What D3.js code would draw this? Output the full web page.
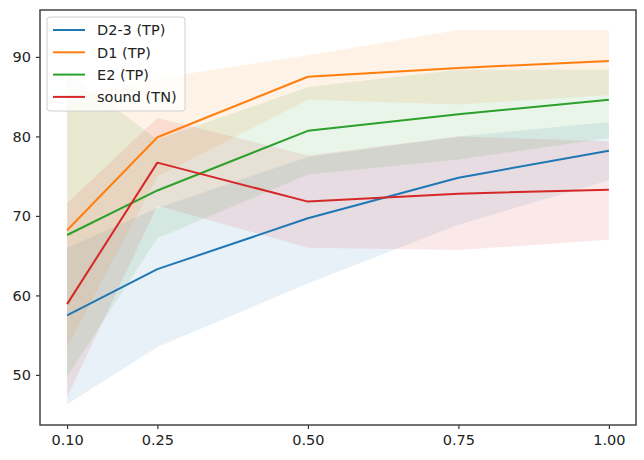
<!DOCTYPE html>
<html>
<head>
<meta charset="utf-8">
<script src="https://cdn.jsdelivr.net/npm/d3@7"></script>
<style>
  html, body { margin: 0; padding: 0; background: #fff; }
  svg { display: block; font-family: "DejaVu Sans", sans-serif; }
</style>
</head>
<body>
<svg id="chart" width="644" height="460"></svg>
<script>
// ---- data ----
const xValues = [0.10, 0.25, 0.50, 0.75, 1.00];
const xTickLabels = ["0.10", "0.25", "0.50", "0.75", "1.00"];
const yTicks = [50, 60, 70, 80, 90];
const seriesNames = ["D2-3 (TP)", "D1 (TP)", "E2 (TP)", "sound (TN)"];
const seriesColors = ["#1f77b4", "#ff7f0e", "#2ca02c", "#d62728"];

const d23Mean  = [57.5, 63.3, 69.7, 74.8, 78.2];
const d23Low   = [46.3, 53.5, 61.5, 68.9, 74.5];
const d23High  = [66.0, 71.0, 77.4, 80.0, 81.8];

const d1Mean   = [68.2, 79.9, 87.5, 88.6, 89.5];
const d1Low    = [53.5, 75.0, 84.6, 84.0, 85.2];
const d1High   = [85.0, 87.3, 90.2, 93.4, 93.4];

const e2Mean   = [67.6, 73.2, 80.7, 82.8, 84.6];
const e2Low    = [49.8, 67.2, 75.2, 77.1, 79.8];
const e2High   = [88.0, 79.6, 86.2, 88.4, 88.4];

const soundMean = [58.9, 76.7, 71.8, 72.8, 73.3];
const soundLow  = [47.2, 71.3, 66.0, 65.7, 67.0];
const soundHigh = [71.6, 82.3, 77.6, 80.0, 79.4];

const series = [
  {name: seriesNames[0], color: seriesColors[0], mean: d23Mean, low: d23Low, high: d23High},
  {name: seriesNames[1], color: seriesColors[1], mean: d1Mean, low: d1Low, high: d1High},
  {name: seriesNames[2], color: seriesColors[2], mean: e2Mean, low: e2Low, high: e2High},
  {name: seriesNames[3], color: seriesColors[3], mean: soundMean, low: soundLow, high: soundHigh}
];

// ---- layout ----
const svg = d3.select("#chart");
const mLeft = 40, mRight = 636, mTop = 10, mBottom = 425;

const x = d3.scaleLinear().domain([0.055, 1.045]).range([mLeft, mRight]);
const y = d3.scaleLinear().domain([43.7, 95.9]).range([mBottom, mTop]);

// bands
const area = d3.area()
  .x((d, i) => x(xValues[i]))
  .y0(d => y(d[0]))
  .y1(d => y(d[1]));

series.forEach(s => {
  const pts = s.low.map((v, i) => [v, s.high[i]]);
  svg.append("path")
    .attr("d", area(pts))
    .attr("fill", s.color)
    .attr("fill-opacity", 0.1)
    .attr("stroke", "none");
});

// lines
const line = d3.line()
  .x((d, i) => x(xValues[i]))
  .y(d => y(d));

series.forEach(s => {
  svg.append("path")
    .attr("d", line(s.mean))
    .attr("fill", "none")
    .attr("stroke", s.color)
    .attr("stroke-width", 2)
    .attr("stroke-linejoin", "round");
});

// axes
const xAxis = d3.axisBottom(x)
  .tickValues(xValues)
  .tickFormat((d, i) => xTickLabels[i])
  .tickSize(4).tickPadding(6);
const yAxis = d3.axisLeft(y)
  .tickValues(yTicks)
  .tickFormat(d3.format("d"))
  .tickSize(4).tickPadding(5);

const gx = svg.append("g").attr("transform", `translate(0,${mBottom})`).call(xAxis);
const gy = svg.append("g").attr("transform", `translate(${mLeft},0)`).call(yAxis);
[gx, gy].forEach(g => {
  g.select(".domain").remove();
  g.selectAll(".tick line").attr("stroke", "#333").attr("stroke-width", 1.2);
  g.selectAll(".tick text").attr("fill", "#222").style("font-size", "14.5px")
    .style("font-family", "'DejaVu Sans', sans-serif");
});

// frame
svg.append("rect")
  .attr("x", mLeft).attr("y", mTop)
  .attr("width", mRight - mLeft).attr("height", mBottom - mTop)
  .attr("fill", "none").attr("stroke", "#444").attr("stroke-width", 1.5);

// legend
const lg = svg.append("g").attr("transform", "translate(47,17)");
lg.append("rect")
  .attr("x", 0).attr("y", 0).attr("width", 138).attr("height", 94)
  .attr("rx", 3).attr("ry", 3)
  .attr("fill", "#fff").attr("fill-opacity", 0.8)
  .attr("stroke", "#d0d0d0").attr("stroke-width", 1);
series.forEach((s, i) => {
  const yy = 13 + i * 22.3;
  lg.append("line")
    .attr("x1", 6).attr("x2", 38).attr("y1", yy).attr("y2", yy)
    .attr("stroke", s.color).attr("stroke-width", 2);
  lg.append("text")
    .attr("x", 50).attr("y", yy).attr("dy", "0.36em")
    .attr("fill", "#222").style("font-size", "14.5px")
    .text(s.name);
});
</script>
</body>
</html>
